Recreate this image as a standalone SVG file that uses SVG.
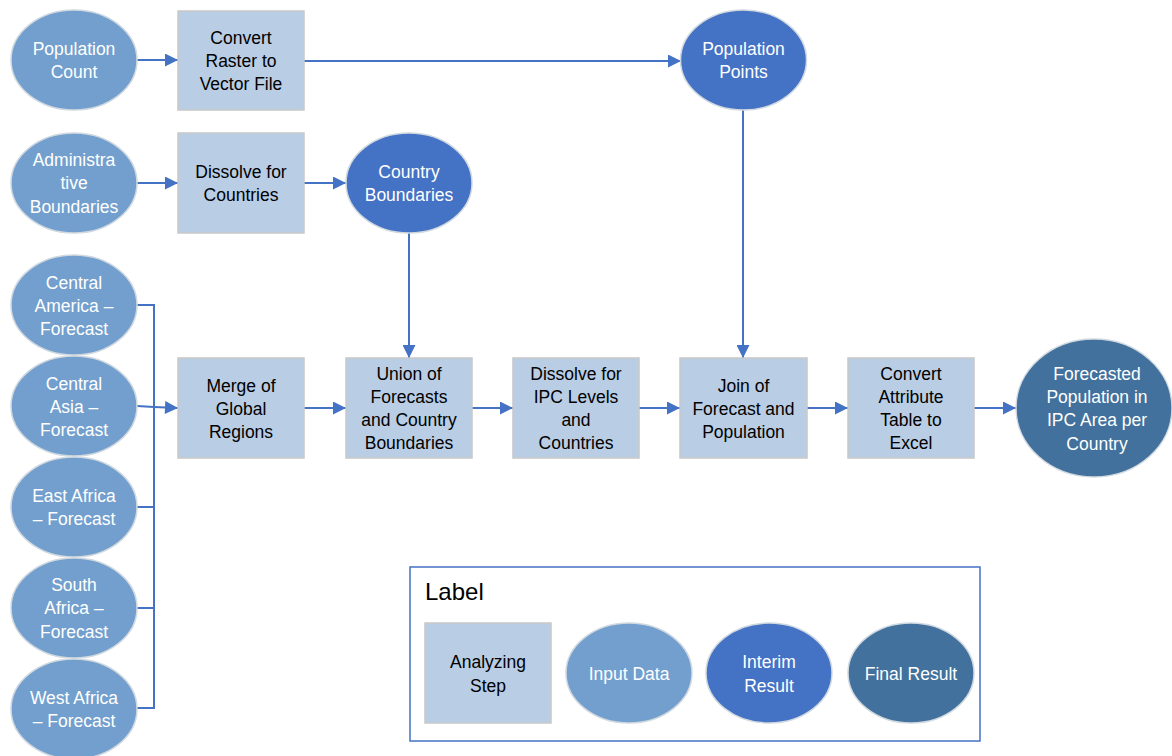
<svg xmlns="http://www.w3.org/2000/svg" width="1172" height="756" viewBox="0 0 1172 756">
<style>
.step{fill:#B9CDE5;stroke:#C8C8C8;stroke-width:1.5}
.input{fill:#729FCD;stroke:#D0D8E0;stroke-width:1.5}
.interim{fill:#4472C4;stroke:#D0D8E0;stroke-width:1.5}
.final{fill:#41719C;stroke:#D0D8E0;stroke-width:1.5}
text{font-family:"Liberation Sans",Arial,sans-serif;font-size:17.5px;text-anchor:middle;dominant-baseline:central}
.dark{fill:#000}
.light{fill:#fff}
.conn{fill:none;stroke:#4472C4;stroke-width:2}
</style>
<defs>
<marker id="ah" viewBox="0 0 10 10" refX="10" refY="5" markerWidth="7" markerHeight="6.5" markerUnits="strokeWidth" orient="auto">
<path d="M0,0 L10,5 L0,10 z" fill="#4472C4"/>
</marker>
</defs>
<rect width="1172" height="756" fill="#fff"/>
<g id="connectors">
<path class="conn" d="M137,60 L178,60" marker-end="url(#ah)"/>
<path class="conn" d="M304,61 L681,61" marker-end="url(#ah)"/>
<path class="conn" d="M137,183 L178,183" marker-end="url(#ah)"/>
<path class="conn" d="M304,183 L346,183" marker-end="url(#ah)"/>
<path class="conn" d="M409,233 L409,358" marker-end="url(#ah)"/>
<path class="conn" d="M743,110 L743,358" marker-end="url(#ah)"/>
<path class="conn" d="M137,305 L154,305 L154,708 L137,708"/>
<path class="conn" d="M137,507 L154,507"/>
<path class="conn" d="M137,608 L154,608"/>
<path class="conn" d="M137,406 L154,407 L178,408" marker-end="url(#ah)"/>
<path class="conn" d="M304,408 L346,408" marker-end="url(#ah)"/>
<path class="conn" d="M472,408 L513,408" marker-end="url(#ah)"/>
<path class="conn" d="M639,408 L680,408" marker-end="url(#ah)"/>
<path class="conn" d="M807,408 L848,408" marker-end="url(#ah)"/>
<path class="conn" d="M974,408 L1016,408" marker-end="url(#ah)"/>
</g>
<g id="population-count"><ellipse class="input" cx="74" cy="60" rx="63" ry="50"/><text class="light" x="74" y="49">Population</text><text class="light" x="74" y="72">Count</text></g>
<g id="convert-raster"><rect class="step" x="178" y="11" width="126" height="99"/><text class="dark" x="241" y="38">Convert</text><text class="dark" x="241" y="61">Raster to</text><text class="dark" x="241" y="84">Vector File</text></g>
<g id="population-points"><ellipse class="interim" cx="743.5" cy="60" rx="63" ry="50"/><text class="light" x="743.5" y="49">Population</text><text class="light" x="743.5" y="72">Points</text></g>
<g id="admin-boundaries"><ellipse class="input" cx="74" cy="183" rx="63" ry="50"/><text class="light" x="74" y="160">Administra</text><text class="light" x="74" y="183">tive</text><text class="light" x="74" y="207">Boundaries</text></g>
<g id="dissolve-countries"><rect class="step" x="178" y="133" width="126" height="100"/><text class="dark" x="241" y="172">Dissolve for</text><text class="dark" x="241" y="195">Countries</text></g>
<g id="country-boundaries"><ellipse class="interim" cx="409" cy="183" rx="63" ry="50"/><text class="light" x="409" y="172">Country</text><text class="light" x="409" y="195">Boundaries</text></g>
<g id="central-america"><ellipse class="input" cx="74" cy="305" rx="63" ry="50"/><text class="light" x="74" y="283">Central</text><text class="light" x="74" y="306">America –</text><text class="light" x="74" y="329">Forecast</text></g>
<g id="central-asia"><ellipse class="input" cx="74" cy="406" rx="63" ry="50"/><text class="light" x="74" y="384">Central</text><text class="light" x="74" y="407">Asia –</text><text class="light" x="74" y="430">Forecast</text></g>
<g id="east-africa"><ellipse class="input" cx="74" cy="507" rx="63" ry="50"/><text class="light" x="74" y="496">East Africa</text><text class="light" x="74" y="519">– Forecast</text></g>
<g id="south-africa"><ellipse class="input" cx="74" cy="608" rx="63" ry="50"/><text class="light" x="74" y="585">South</text><text class="light" x="74" y="608">Africa –</text><text class="light" x="74" y="632">Forecast</text></g>
<g id="west-africa"><ellipse class="input" cx="74" cy="709" rx="63" ry="50"/><text class="light" x="74" y="698">West Africa</text><text class="light" x="74" y="721">– Forecast</text></g>
<g id="merge"><rect class="step" x="178" y="358" width="126" height="100"/><text class="dark" x="241" y="386">Merge of</text><text class="dark" x="241" y="409">Global</text><text class="dark" x="241" y="432">Regions</text></g>
<g id="union"><rect class="step" x="346" y="358" width="126" height="100"/><text class="dark" x="409" y="374">Union of</text><text class="dark" x="409" y="397">Forecasts</text><text class="dark" x="409" y="420">and Country</text><text class="dark" x="409" y="443">Boundaries</text></g>
<g id="dissolve-ipc"><rect class="step" x="513" y="358" width="126" height="100"/><text class="dark" x="576" y="374">Dissolve for</text><text class="dark" x="576" y="397">IPC Levels</text><text class="dark" x="576" y="420">and</text><text class="dark" x="576" y="443">Countries</text></g>
<g id="join"><rect class="step" x="680" y="358" width="127" height="100"/><text class="dark" x="743.5" y="386">Join of</text><text class="dark" x="743.5" y="409">Forecast and</text><text class="dark" x="743.5" y="432">Population</text></g>
<g id="convert-attribute"><rect class="step" x="848" y="358" width="126" height="100"/><text class="dark" x="911" y="374">Convert</text><text class="dark" x="911" y="397">Attribute</text><text class="dark" x="911" y="420">Table to</text><text class="dark" x="911" y="443">Excel</text></g>
<g id="forecasted-population"><ellipse class="final" cx="1094" cy="408" rx="78" ry="69"/><text class="light" x="1097" y="374">Forecasted</text><text class="light" x="1097" y="397">Population in</text><text class="light" x="1097" y="420">IPC Area per</text><text class="light" x="1097" y="444">Country</text></g>
<g id="legend">
<rect x="410" y="567" width="570" height="174" fill="#fff" stroke="#4472C4" stroke-width="1.5"/>
<text class="dark" x="425" y="591" style="text-anchor:start;font-size:24px">Label</text>
<rect class="step" x="425" y="623" width="126" height="100"/><text class="dark" x="488" y="662">Analyzing</text><text class="dark" x="488" y="686">Step</text>
<ellipse class="input" cx="629" cy="673" rx="63" ry="50"/><text class="light" x="629" y="674">Input Data</text>
<ellipse class="interim" cx="769" cy="673" rx="63" ry="50"/><text class="light" x="769" y="662">Interim</text><text class="light" x="769" y="686">Result</text>
<ellipse class="final" cx="911" cy="673" rx="63" ry="50"/><text class="light" x="911" y="674">Final Result</text>
</g>
</svg>
